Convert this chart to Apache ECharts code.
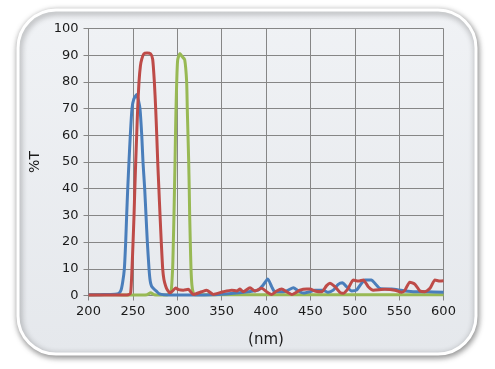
<!DOCTYPE html>
<html><head><meta charset="utf-8">
<script src="https://cdn.jsdelivr.net/npm/echarts@6/dist/echarts.min.js"></script>
<style>html,body{margin:0;padding:0;background:#fff}#c{width:495px;height:369px}</style>
</head><body><div id="c"></div>
<script>
// Wavelengths (nm) and %T values for each filter curve
const blueX = [200,210,220,230,234,236.6,238.5,240.4,241.9,243,244.2,245.6,247.1,249,251,254.3,256,258,260,261.4,263.3,264.8,266.3,268.2,269.5,271,273.5,276.8,280,285,300,320,340,355,370,380,391,397,402,406.4,410,419.5,425,430.8,436.4,442,449.6,455,464,470,475.8,481.4,486,490.8,496.5,502,507.7,511.4,518.9,522.6,528.2,541.4,556.4,567.7,582.9,600];
const blueY = [0.3,0.3,0.4,0.5,0.8,2,5,10,20,30,40,50,60,70,73.5,75.3,73.5,70,60,50,40,30,20,10,5.5,3.5,2.5,1.5,0.6,0.3,0.2,0.2,0.3,0.6,1,1.4,2,4,6.2,3.3,1.4,1.4,2,2.9,1.7,0.9,1.4,2,2,1.2,2,4.2,4.8,3.3,1.7,2,4.6,5.8,5.8,4.6,2.7,2.4,1.7,1.4,1.4,1.2];
const redX = [200,220,240,245,247.5,249,250.2,251.3,252.2,253.2,254.3,255.4,256.9,258.5,260,262.3,266,269.9,272.3,274.2,275.7,276.9,278,279.3,280.6,282,283.6,285,287,289,291.8,294.5,298.2,301.5,306.8,312.5,318,327.5,333,340.6,351.9,361.3,367,370.7,374.4,382,387.6,395.2,400.8,406.4,412,417.7,423.3,429,438.3,445.9,449.6,455,462.7,468.3,472,477.7,483.3,487,492.7,498.3,504,509.6,515.2,520.9,534,545.3,552.8,556.6,562,567.9,573.5,579,584.8,590.4,596,600];
const redY = [0.2,0.2,0.2,0.3,1,10,20,30,40,50,60,70,80,86,88.5,90.5,90.8,90.5,88.5,80,70,60,50,40,30,20,10,6,3.5,2,1,1.6,2.8,2.2,2,2.3,0.4,1.4,2,0.4,1.4,2,1.7,2.4,1.4,2.9,1.7,2.7,1.4,0.4,1.7,2.4,1.4,0.4,2,2.4,2.4,1.7,1.4,3.7,4.6,3.3,1.2,0.8,2.7,5.8,5.4,5.8,3.3,2,2.3,2,1.2,2,5,4.2,1.7,1.4,2.7,5.8,5.4,5.5];
const greenX = [200,220,240,260,266,270,274,280,288,291,293,294.8,295.6,296.3,296.9,297.5,298,298.6,299.4,300.5,303,305.5,308.4,310.6,311.3,312.1,312.9,313.5,314,314.7,315.5,316.5,318,320,350,400,450,500,550,600];
const greenY = [0.2,0.3,0.2,0.2,0.3,1,0.3,0.2,0.2,0.5,1,10,20,30,40,50,60,70,80,88.3,90.6,89.5,88.3,80,70,60,50,40,30,20,10,4,1,0.3,0.3,0.3,0.3,0.3,0.3,0.3];
const xTicks = {min:200, max:600, interval:50};
const yTicks = {min:0, max:100, interval:10};

function pairs(xs, ys){ return xs.map((x,i)=>[x, ys[i]]); }

const chart = echarts.init(document.getElementById('c'), null, {renderer:'canvas'});
const font = 'DejaVu Sans, Verdana, sans-serif';
chart.setOption({
  animation:false,
  graphic:[{
    type:'rect', z:-10, silent:true,
    shape:{x:18, y:10, width:458, height:344, r:38},
    style:{
      fill:{type:'linear', x:0, y:0, x2:0, y2:1, colorStops:[{offset:0,color:'#f0f2f5'},{offset:1,color:'#e5e8ec'}]},
      stroke:'#ffffff', lineWidth:3,
      shadowBlur:6, shadowColor:'rgba(0,0,0,0.45)', shadowOffsetX:1, shadowOffsetY:2
    }
  }],
  grid:{left:88.5, right:51.5, top:28.5, bottom:73.5, containLabel:false},
  xAxis:{
    type:'value', min:xTicks.min, max:xTicks.max, interval:xTicks.interval,
    name:'(nm)', nameLocation:'middle', nameGap:37,
    nameTextStyle:{fontFamily:font, fontSize:15, color:'#1a1a1a'},
    axisLine:{show:true, lineStyle:{color:'#868686', width:1}},
    axisTick:{show:true, length:5, lineStyle:{color:'#868686'}},
    axisLabel:{fontFamily:font, fontSize:13, color:'#1a1a1a', margin:10},
    splitLine:{show:true, lineStyle:{color:'#868686', width:1}}
  },
  yAxis:{
    type:'value', min:yTicks.min, max:yTicks.max, interval:yTicks.interval,
    name:'%T', nameLocation:'middle', nameGap:37, nameRotate:90,
    nameTextStyle:{fontFamily:font, fontSize:14, color:'#1a1a1a'},
    axisLine:{show:true, lineStyle:{color:'#868686', width:1}},
    axisTick:{show:true, length:5, lineStyle:{color:'#868686'}},
    axisLabel:{fontFamily:font, fontSize:13, color:'#1a1a1a', margin:10},
    splitLine:{show:true, lineStyle:{color:'#868686', width:1}}
  },
  series:[
    {type:'line', data:pairs(greenX, greenY), smooth:0.2, showSymbol:false, lineStyle:{color:'#98b954', width:3}, z:3},
    {type:'line', data:pairs(blueX, blueY), smooth:0.2, showSymbol:false, lineStyle:{color:'#4a7ebb', width:3}, z:4},
    {type:'line', data:pairs(redX, redY), smooth:0.2, showSymbol:false, lineStyle:{color:'#be4b48', width:3}, z:5}
  ]
});
</script></body></html>
